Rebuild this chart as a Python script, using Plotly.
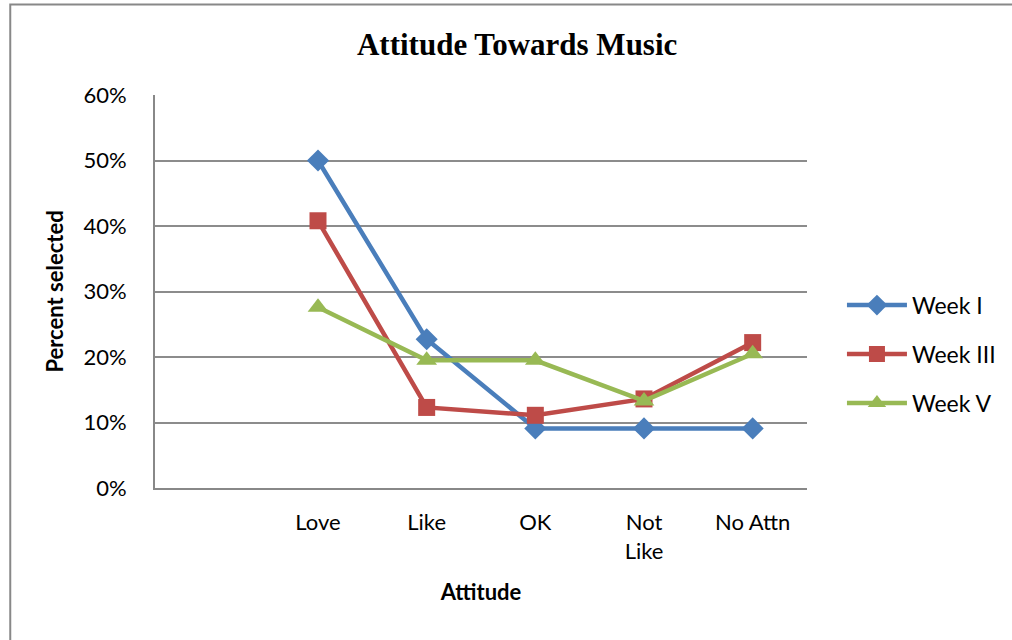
import plotly.graph_objects as go

categories = [" ", "Love", "Like", "OK", "Not<br>Like", "No Attn"]
data_categories = ["Love", "Like", "OK", "Not<br>Like", "No Attn"]
week_i = [0.50, 0.227, 0.091, 0.091, 0.091]
week_iii = [0.408, 0.123, 0.111, 0.136, 0.222]
week_v = [0.276, 0.195, 0.195, 0.133, 0.205]
y_ticks = [0, 0.1, 0.2, 0.3, 0.4, 0.5, 0.6]
y_tick_labels = ["0%", "10%", "20%", "30%", "40%", "50%", "60%"]

FONT = "Lato"
fig = go.Figure()
series = [
    ("Week I", week_i, "#4a7ebb", "diamond", 17),
    ("Week III", week_iii, "#be4b48", "square", 17),
    ("Week V", week_v, "#98b954", "triangle-up", 18),
]
for name, vals, col, sym, sz in series:
    fig.add_trace(go.Scatter(
        x=data_categories, y=vals, name=name, mode="lines+markers",
        line=dict(color=col, width=4.5),
        marker=dict(symbol=sym, size=sz, color=col),
        legendgroup=name,
    ))

fig.update_layout(
    width=1012, height=640,
    margin=dict(l=155, r=204, t=95, b=152),
    paper_bgcolor="white", plot_bgcolor="white",
    font=dict(family=FONT, size=22, color="black"),
    title=dict(text="<b>Attitude Towards Music</b>", xref="container", x=0.511,
               y=1 - 44 / 640, yanchor="middle", xanchor="center",
               font=dict(family="Liberation Serif", size=31, color="black")),
    legend=dict(x=1.052, y=0.52, xanchor="left", yanchor="top",
                font=dict(size=23), tracegroupgap=16, itemwidth=60,
                bgcolor="rgba(0,0,0,0)"),
    showlegend=True,
    shapes=[dict(type="rect", xref="paper", yref="paper",
                 x0=-0.222, x1=1.6, y0=-1.0, y1=1.230,
                 line=dict(color="#888888", width=2), layer="below")],
)
fig.update_xaxes(
    type="category", categoryorder="array", categoryarray=categories,
    range=[-0.5, 5.5], showgrid=False, showline=True, linecolor="#888888",
    linewidth=2, ticks="", ticklabelstandoff=14,
    title=dict(text="<b>Attitude</b>", font=dict(size=22), standoff=22),
)
fig.update_yaxes(
    range=[0, 0.6], tickvals=y_ticks, ticktext=y_tick_labels,
    showgrid=True, gridcolor="#8c8c8c", gridwidth=1.5,
    showline=True, linecolor="#888888", linewidth=2, ticks="",
    ticklabelstandoff=22, zeroline=False,
    title=dict(text="<b>Percent selected</b>", font=dict(size=22), standoff=14),
)

fig.write_html("out.html")
